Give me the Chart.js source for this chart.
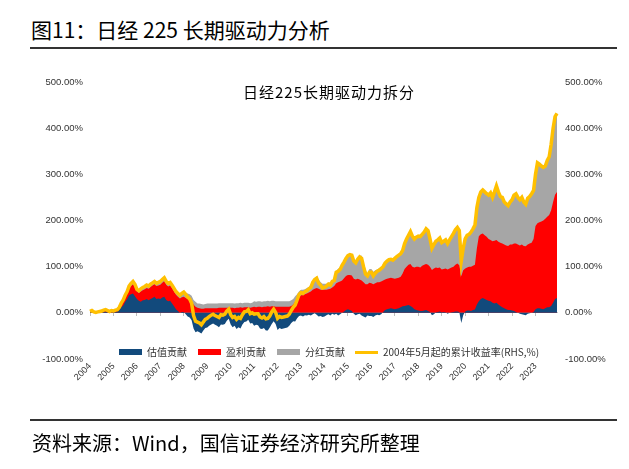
<!DOCTYPE html>
<html>
<head>
<meta charset="utf-8">
<script src="https://cdn.jsdelivr.net/npm/chart.js@4.4.1/dist/chart.umd.min.js"></script>
<style>
  html, body { margin: 0; padding: 0; background: #fff; }
  body { width: 629px; height: 469px; position: relative; overflow: hidden; font-family: "Noto Sans CJK SC", sans-serif; }
  #chart { position: absolute; left: 0; top: 0; }
  .title { position: absolute; left: 31px; top: 19px; font-size: 21px; line-height: 21px; color: #000; white-space: nowrap; }
  .rule { position: absolute; left: 30px; width: 587px; height: 2px; background: #333; }
  .source { position: absolute; left: 32px; top: 433px; font-size: 20px; line-height: 20px; color: #000; white-space: nowrap; }
  .subtitle { position: absolute; left: 243px; top: 84px; font-size: 15px; line-height: 16px; letter-spacing: 1px; color: #000; white-space: nowrap; }
  .legend { position: absolute; left: 119px; top: 346px; display: flex; align-items: center; font-size: 10px; line-height: 12px; color: #333; white-space: nowrap; }
  .legend .sw { display: inline-block; width: 23px; margin-right: 5px; }
  .legend .tx { margin-right: 11px; }
</style>
</head>
<body>
<div class="title">图11：日经 225 长期驱动力分析</div>
<div class="rule" style="top:47px"></div>
<canvas id="chart" width="629" height="469"></canvas>
<div class="subtitle">日经225长期驱动力拆分</div>
<div class="legend" id="legend"></div>
<div class="rule" style="top:419px"></div>
<div class="source">资料来源：Wind，国信证券经济研究所整理</div>

<script>
// monthly, 2004-05 .. 2024-04 (%)
const yearLabels = ['2004', '2005', '2006', '2007', '2008', '2009', '2010', '2011', '2012', '2013',
  '2014', '2015', '2016', '2017', '2018', '2019', '2020', '2021', '2022', '2023'];

const valuation = [
  1, 2, 0, -1, 0, 1, 1, 2, 3, 1, 0, 1,
  1, 2, 3, 6, 12, 16, 24, 30, 38, 40, 42, 36,
  30, 26, 24, 27, 28, 30, 27, 30, 32, 35, 30, 31,
  30, 33, 35, 28, 25, 26, 20, 14, 8, 4, 0, 2,
  2, -3, -8, -10, -16, -34, -42, -40, -42, -45, -38, -33,
  -32, -28, -25, -23, -26, -28, -31, -25, -26, -24, -17, -13,
  -25, -31, -28, -35, -31, -34, -25, -20, -19, -15, -23, -22,
  -28, -26, -27, -34, -35, -33, -38, -38, -32, -24, -18, -24,
  -37, -33, -35, -34, -33, -32, -28, -22, -18, -19, -12, -7,
  -6, -8, -5, -6, -4, -6, -3, -1, -4, -8, -7, -9,
  -8, -5, -3, -6, -2, -4, -2, -6, -3, 0, 3, 6,
  8, 6, 4, -2, -5, -3, -2, -6, -8, -10, -6, -7,
  -7, -9, -6, -4, -5, -3, 2, 6, 8, 9, 10, 9,
  8, 9, 10, 12, 14, 15, 16, 17, 15, 12, 8, 6,
  5, 4, 4, 5, 6, 4, 2, -5, -3, 1, 2, 3,
  1, 2, 1, -2, 0, 1, 2, 3, 3, 2, -22, -5,
  3, 5, 5, 4, 6, 7, 18, 25, 30, 32, 30, 28,
  26, 25, 22, 20, 22, 18, 15, 12, 10, 8, 6, 6,
  5, 4, 2, 0, -2, -3, -4, -5, -2, -1, 0, 2,
  8, 10, 10, 9, 8, 10, 12, 12, 15, 22, 30, 32
];

const earnings = [
  1, 1, 1, 1, 1, 1, 2, 2, 2, 2, 2, 2,
  2, 3, 3, 4, 6, 8, 10, 12, 15, 18, 20, 20,
  16, 17, 22, 22, 23, 24, 25, 26, 27, 27, 28, 28,
  31, 32, 34, 33, 32, 33, 33, 32, 31, 31, 31, 32,
  33, 32, 30, 28, 25, 18, 13, 11, 10, 9, 9, 10,
  10, 10, 10, 10, 10, 10, 11, 11, 11, 11, 11, 11,
  11, 11, 10, 11, 11, 12, 11, 12, 12, 12, 11, 12,
  13, 12, 13, 13, 12, 13, 13, 14, 13, 14, 14, 13,
  13, 13, 13, 13, 13, 13, 13, 15, 18, 24, 28, 34,
  38, 38, 40, 42, 44, 46, 50, 52, 54, 52, 50, 50,
  50, 50, 51, 52, 55, 58, 64, 66, 68, 70, 72, 74,
  74, 76, 77, 74, 72, 74, 72, 70, 66, 62, 62, 65,
  64, 62, 64, 66, 66, 68, 68, 66, 66, 66, 66, 66,
  66, 66, 66, 66, 71, 80, 84, 87, 91, 88, 90, 94,
  95, 94, 98, 99, 100, 100, 98, 93, 96, 97, 95, 95,
  93, 93, 95, 94, 96, 97, 98, 101, 104, 101, 79, 92,
  93, 93, 95, 96, 96, 97, 122, 141, 140, 140, 138, 137,
  134, 133, 133, 136, 136, 136, 137, 138, 138, 138, 139, 142,
  143, 146, 148, 148, 146, 148, 145, 144, 148, 150, 152, 158,
  180, 184, 186, 189, 192, 194, 196, 200, 207, 218, 226, 230
];

const dividend = [
  1, 2, 1, 1, 1, 1, 1, 2, 2, 2, 1, 2,
  1, 1, 1, 2, 3, 4, 4, 4, 5, 6, 6, 6,
  5, 5, 6, 6, 6, 6, 6, 6, 6, 6, 6, 7,
  7, 7, 7, 7, 7, 7, 7, 7, 7, 7, 7, 8,
  10, 11, 12, 12, 12, 10, 11, 9, 10, 10, 9, 9,
  10, 10, 10, 10, 10, 10, 10, 10, 10, 10, 10, 10,
  10, 10, 10, 10, 10, 10, 10, 10, 10, 10, 10, 10,
  12, 12, 12, 12, 12, 12, 12, 12, 12, 12, 12, 12,
  12, 12, 12, 12, 12, 12, 12, 12, 12, 12, 12, 13,
  12, 12, 11, 12, 12, 15, 19, 21, 25, 20, 17, 13,
  13, 13, 14, 14, 15, 16, 26, 30, 29, 33, 35, 38,
  42, 44, 44, 40, 41, 45, 51, 54, 42, 32, 24, 30,
  31, 27, 28, 28, 31, 31, 30, 36, 38, 40, 40, 39,
  44, 47, 49, 50, 50, 55, 60, 64, 70, 66, 62, 64,
  66, 67, 68, 71, 76, 74, 60, 52, 55, 57, 61, 64,
  58, 60, 62, 58, 62, 67, 72, 76, 78, 75, 55, 53,
  64, 70, 70, 75, 80, 86, 88, 84, 92, 94, 94, 93,
  95, 102, 95, 106, 117, 108, 100, 100, 92, 90, 87, 92,
  97, 105, 108, 102, 101, 105, 99, 96, 102, 103, 106, 105,
  112, 131, 126, 120, 115, 114, 122, 126, 143, 160, 169, 170
];

const cumReturn = [
  3, 5, 2, 1, 2, 3, 4, 6, 7, 5, 3, 5,
  4, 6, 7, 12, 21, 28, 38, 46, 58, 64, 68, 62,
  51, 48, 52, 55, 57, 60, 58, 62, 65, 68, 64, 66,
  68, 72, 76, 68, 64, 66, 60, 53, 46, 42, 38, 42,
  45, 40, 34, 30, 21, -6, -18, -20, -22, -26, -20, -14,
  -12, -8, -5, -3, -6, -8, -10, -4, -5, -3, 4, 8,
  -4, -10, -8, -14, -10, -12, -4, 2, 3, 7, -2, 0,
  -3, -2, -2, -9, -11, -8, -13, -12, -7, 2, 8, 1,
  -12, -8, -10, -9, -8, -7, -3, 5, 12, 17, 28, 40,
  44, 42, 46, 48, 52, 55, 66, 72, 75, 64, 60, 54,
  55, 58, 62, 60, 68, 70, 88, 90, 94, 103, 110, 118,
  124, 126, 125, 112, 108, 116, 121, 118, 100, 84, 80, 88,
  88, 80, 86, 90, 92, 96, 100, 108, 112, 115, 116, 114,
  118, 122, 125, 128, 135, 150, 160, 168, 176, 166, 160, 164,
  166, 165, 170, 175, 182, 178, 160, 140, 148, 155, 158, 162,
  152, 155, 158, 150, 158, 165, 172, 180, 185, 178, 112, 140,
  160, 168, 170, 175, 182, 190, 228, 250, 262, 266, 262, 258,
  255, 260, 250, 262, 275, 262, 252, 250, 240, 236, 232, 240,
  245, 255, 258, 250, 245, 250, 240, 235, 248, 252, 258, 265,
  300, 325, 322, 318, 315, 318, 330, 338, 365, 400, 425, 432
];

// month categories starting 2004-05
const labels = [];
for (let i = 0; i < cumReturn.length; i++) {
  const m = 4 + i;
  labels.push((2004 + Math.floor(m / 12)) + '-' + String(m % 12 + 1).padStart(2, '0'));
}

const navy = '#124a7c', red = '#ff0000', grey = '#a6a6a6', gold = '#ffc000';

function area(label, data, color) {
  return {
    label: label, data: data, yAxisID: 'y',
    backgroundColor: color, borderColor: 'rgba(0,0,0,0)', borderWidth: 0,
    fill: 'origin', pointRadius: 0, tension: 0
  };
}

const datasets = [
  area('估值贡献', valuation, navy),
  area('盈利贡献', earnings, red),
  area('分红贡献', dividend, grey),
  {
    label: '2004年5月起的累计收益率(RHS,%)', data: cumReturn, yAxisID: 'y2',
    borderColor: gold, borderWidth: 3.5, fill: false, pointRadius: 0, tension: 0, order: -1
  }
];

const pct = v => v.toFixed(2) + '%';
const tickFont = { family: 'Liberation Sans', size: 9.5 };

new Chart(document.getElementById('chart').getContext('2d'), {
  type: 'line',
  data: { labels: labels, datasets: datasets },
  options: {
    responsive: false,
    animation: false,
    layout: { padding: { left: 30, right: 8, top: 82, bottom: 70 } },
    plugins: { legend: { display: false }, tooltip: { enabled: false } },
    scales: {
      x: {
        axis: 'x',
        position: { y: 0 },
        grid: {
          drawOnChartArea: false, drawTicks: true, tickLength: 3,
          color: c => c.index % 12 === 0 ? '#bdbdbd' : 'rgba(0,0,0,0)',
          tickColor: c => c.index % 12 === 0 ? '#bdbdbd' : 'rgba(0,0,0,0)'
        },
        border: { display: true, color: '#c8c8c8', width: 1 },
        ticks: { display: false }
      },
      x2: {
        type: 'category',
        axis: 'x',
        position: 'bottom',
        grid: { display: false, drawTicks: false },
        border: { display: false },
        ticks: {
          autoSkip: false, maxRotation: 45, minRotation: 45, padding: 2,
          color: '#333', font: { family: 'Liberation Sans', size: 9 },
          callback: (v, i) => i % 12 === 0 ? yearLabels[i / 12] : ''
        },
        afterFit: s => { s.height = 40; }
      },
      y: {
        stacked: true, min: -100, max: 500,
        grid: { display: false, drawTicks: false },
        border: { display: false },
        ticks: { stepSize: 100, padding: 7, color: '#333', font: tickFont, callback: pct },
        afterFit: s => { s.width = 60; }
      },
      y2: {
        position: 'right', stacked: false, min: -100, max: 500,
        grid: { display: false, drawTicks: false },
        border: { display: false },
        ticks: { stepSize: 100, padding: 8, color: '#333', font: tickFont, callback: pct },
        afterFit: s => { s.width = 64; }
      }
    }
  }
});

// legend built from the datasets
const legend = document.getElementById('legend');
datasets.forEach(ds => {
  const sw = document.createElement('span');
  sw.className = 'sw';
  if (ds.fill === false) {
    sw.style.height = '3px';
    sw.style.background = ds.borderColor;
    sw.style.marginLeft = '-1px';
  } else {
    sw.style.height = '6px';
    sw.style.background = ds.backgroundColor;
  }
  const tx = document.createElement('span');
  tx.className = 'tx';
  tx.textContent = ds.label;
  legend.appendChild(sw);
  legend.appendChild(tx);
});
</script>
</body>
</html>
